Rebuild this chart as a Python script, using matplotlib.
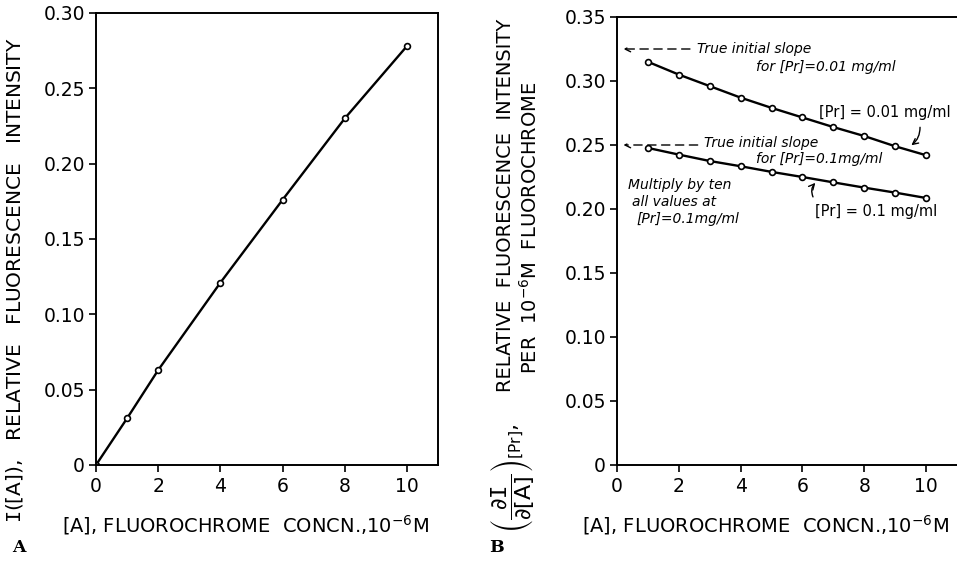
import matplotlib
matplotlib.use("Agg")
import matplotlib.pyplot as plt

# ---------------- data ----------------
conc_A = [0, 1, 2, 4, 6, 8, 10]
intensity_A = [0.0, 0.031, 0.063, 0.121, 0.176, 0.230, 0.278]

conc_B = [1, 2, 3, 4, 5, 6, 7, 8, 9, 10]
slope_pr001 = [0.315, 0.305, 0.296, 0.287, 0.279, 0.2715, 0.264, 0.257, 0.249, 0.242]
slope_pr01 = [0.2477, 0.2425, 0.2375, 0.2334, 0.229, 0.225, 0.2208, 0.2167, 0.2128, 0.2086]
true_slope_pr001 = 0.325
true_slope_pr01 = 0.25

yticks_A = [0, 0.05, 0.10, 0.15, 0.20, 0.25, 0.30]
yticklabels_A = ["0", "0.05", "0.10", "0.15", "0.20", "0.25", "0.30"]
yticks_B = [0, 0.05, 0.10, 0.15, 0.20, 0.25, 0.30, 0.35]
yticklabels_B = ["0", "0.05", "0.10", "0.15", "0.20", "0.25", "0.30", "0.35"]
xticks = [0, 2, 4, 6, 8, 10]
xticklabels = ["0", "2", "4", "6", "8", "10"]

plt.rcParams['font.family'] = ['DejaVu Sans']
W, H = 957, 561
fig = plt.figure(figsize=(W / 100, H / 100), dpi=100)

line_kw = dict(color='black', lw=1.7, marker='o', markersize=4.2,
               markerfacecolor='white', markeredgecolor='black', markeredgewidth=1.2)

def style(ax):
    ax.tick_params(direction='out', length=5, width=1.2, labelsize=13.5, pad=3)
    ax.tick_params(axis='x', pad=4)
    for s in ax.spines.values():
        s.set_linewidth(1.4)

# ---------------- panel A ----------------
axA = fig.add_axes([96 / W, 1 - 465 / H, 342 / W, 452 / H])
axA.plot(conc_A, intensity_A, **line_kw)
axA.set_xlim(0, 11)
axA.set_ylim(0, 0.30)
axA.set_xticks(xticks)
axA.set_xticklabels(xticklabels)
axA.set_yticks(yticks_A)
axA.set_yticklabels(yticklabels_A)
style(axA)

# ---------------- panel B ----------------
axB = fig.add_axes([617 / W, 1 - 465 / H, 340 / W, 448 / H])
axB.plot(conc_B, slope_pr001, **line_kw)
axB.plot(conc_B, slope_pr01, **line_kw)
axB.set_xlim(0, 11)
axB.set_ylim(0, 0.35)
axB.set_xticks(xticks)
axB.set_xticklabels(xticklabels)
axB.set_yticks(yticks_B)
axB.set_yticklabels(yticklabels_B)
axB.spines['right'].set_visible(False)
style(axB)

ital = dict(fontsize=10, style='italic', va='center', ha='left')
dash_arrow = dict(arrowstyle='->', linestyle=(0, (6, 4)), lw=1.0, color='black')
axB.annotate("", xy=(0.12, true_slope_pr001), xytext=(2.45, true_slope_pr001),
             arrowprops=dash_arrow)
axB.text(2.6, true_slope_pr001, "True initial slope", **ital)
axB.text(4.5, 0.311, "for [Pr]=0.01 mg/ml", **ital)
axB.annotate("", xy=(0.12, true_slope_pr01), xytext=(2.7, true_slope_pr01),
             arrowprops=dash_arrow)
axB.text(2.83, 0.2515, "True initial slope", **ital)
axB.text(4.5, 0.239, "for [Pr]=0.1mg/ml", **ital)
axB.text(0.35, 0.219, "Multiply by ten", **ital)
axB.text(0.48, 0.2055, "all values at", **ital)
axB.text(0.62, 0.192, "[Pr]=0.1mg/ml", **ital)

axB.text(6.55, 0.2757, "[Pr] = 0.01 mg/ml", fontsize=10.5, va='center', ha='left')
axB.text(6.4, 0.198, "[Pr] = 0.1 mg/ml", fontsize=10.5, va='center', ha='left')
axB.annotate("", xy=(9.45, 0.2485), xytext=(9.8, 0.266),
             arrowprops=dict(arrowstyle='->', lw=1.0, color='black',
                             connectionstyle='arc3,rad=-0.3'))
axB.annotate("", xy=(6.48, 0.222), xytext=(6.38, 0.2075),
             arrowprops=dict(arrowstyle='->', lw=1.0, color='black',
                             connectionstyle='arc3,rad=-0.4'))

# ---------------- labels ----------------
fig.text(15 / W, 1 - 280 / H, r"$\mathtt{I}$([A]),   RELATIVE   FLUORESCENCE   INTENSITY",
         rotation=90, ha='center', va='center', fontsize=14.5)
fig.text(245 / W, 1 - 525 / H, "[A], FLUOROCHROME  CONCN.,10$^{-6}$M",
         ha='center', va='center', fontsize=14)
fig.text(765 / W, 1 - 525 / H, "[A], FLUOROCHROME  CONCN.,10$^{-6}$M",
         ha='center', va='center', fontsize=14)
fig.text(505 / W, 1 - 205 / H, "RELATIVE  FLUORESCENCE  INTENSITY",
         rotation=90, ha='center', va='center', fontsize=14)
fig.text(530 / W, 1 - 228 / H, "PER  10$^{-6}$M  FLUOROCHROME",
         rotation=90, ha='center', va='center', fontsize=14)
fig.text(512 / W, 1 - 478 / H,
         r"$\left(\dfrac{\partial \mathtt{I}}{\partial \mathrm{[A]}}\right)_{\mathrm{[Pr]}}$,",
         rotation=90, ha='center', va='center', fontsize=16)

fig.text(19 / W, 1 - 548 / H, "A", family='DejaVu Serif', fontweight='bold',
         fontsize=12.5, ha='center', va='center')
fig.text(496 / W, 1 - 548 / H, "B", family='DejaVu Serif', fontweight='bold',
         fontsize=12.5, ha='center', va='center')

fig.savefig("out.png", dpi=100)
